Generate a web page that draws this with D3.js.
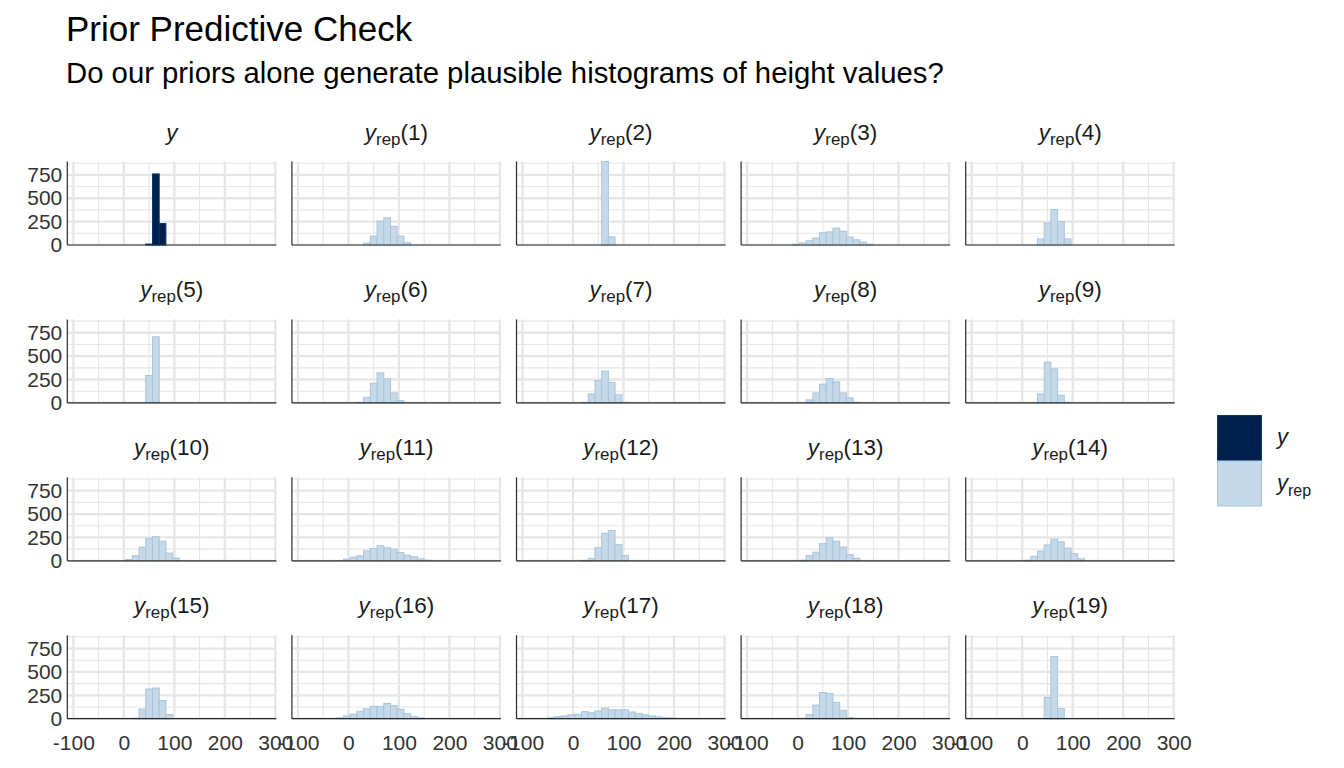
<!DOCTYPE html>
<html><head><meta charset="utf-8">
<script src="https://cdn.jsdelivr.net/npm/d3@7"></script>
<style>
body{margin:0;background:#fff}
svg{display:block}
text{font-family:"Liberation Sans",Arial,Helvetica,sans-serif}
</style>
</head><body>
<svg id="chart" width="1344" height="768"></svg>
<script>
// ---- data ----
const titleText = "Prior Predictive Check";
const subtitleText = "Do our priors alone generate plausible histograms of height values?";
const binStart = -89.6;   // left edge of histogram bin 0
const binWidth = 13.3;    // histogram bin width
const xDomain = [-112, 302];
const xMajorTicks = [-100, 0, 100, 200, 300];
const xMinorTicks = [-50, 50, 150, 250];
const yMajorTicks = [0, 250, 500, 750];
const yMinorTicks = [125, 375, 625, 875];
const panelNames = ["y", "1", "2", "3", "4", "5", "6", "7", "8", "9", "10", "11", "12", "13", "14", "15", "16", "17", "18", "19"];
// index of the first non-empty bin in each panel
const firstBin = [10, 9, 11, 6, 9, 10, 8, 8, 8, 8, 7, 6, 8, 7, 7, 8, 5, 3, 8, 10];
const counts_y      = [10, 760, 230];
const counts_yrep1  = [20, 95, 255, 290, 200, 95, 25];
const counts_yrep2  = [893, 88];
const counts_yrep3  = [8, 22, 45, 75, 130, 140, 180, 148, 85, 56, 32, 8];
const counts_yrep4  = [65, 235, 380, 250, 65];
const counts_yrep5  = [293, 707];
const counts_yrep6  = [7, 61, 211, 321, 257, 107, 25];
const counts_yrep7  = [7, 96, 240, 340, 218, 86, 7];
const counts_yrep8  = [32, 107, 200, 261, 225, 107, 54, 7];
const counts_yrep9  = [5, 96, 436, 364, 82, 5];
const counts_yrep10 = [14, 54, 146, 236, 257, 211, 82, 29];
const counts_yrep11 = [18, 39, 54, 107, 132, 161, 139, 125, 89, 61, 43, 21, 7];
const counts_yrep12 = [5, 26, 140, 294, 324, 173, 55];
const counts_yrep13 = [7, 55, 92, 184, 246, 210, 147, 66, 26];
const counts_yrep14 = [7, 48, 103, 169, 232, 202, 136, 77, 22];
const counts_yrep15 = [5, 104, 317, 328, 194, 45];
const counts_yrep16 = [8, 30, 49, 79, 106, 132, 132, 163, 140, 102, 53, 23, 8];
const counts_yrep17 = [11, 23, 30, 42, 49, 76, 64, 83, 113, 95, 95, 95, 72, 57, 42, 30, 19, 11, 8];
const counts_yrep18 = [45, 146, 280, 269, 175, 90, 11];
const counts_yrep19 = [228, 665, 110];
const allCounts = [counts_y, counts_yrep1, counts_yrep2, counts_yrep3, counts_yrep4, counts_yrep5,
  counts_yrep6, counts_yrep7, counts_yrep8, counts_yrep9, counts_yrep10, counts_yrep11, counts_yrep12,
  counts_yrep13, counts_yrep14, counts_yrep15, counts_yrep16, counts_yrep17, counts_yrep18, counts_yrep19];
const legendLabels = ["y", "rep"];

// ---- style ----
const colors = {
  yFill: "#011f4b", yLine: "#03396c",
  repFill: "#c6d9e8", repLine: "#a9c5dd",
  grid: "#e6e6e6", axis: "#2a2a2a", text: "#333333"
};

// ---- layout ----
const svg = d3.select("#chart");
const panelW = 209, panelH = 83.5;
const left0 = 67.3, top0 = 161.5, colStep = 224.6, rowStep = 157.9;
const nCols = 5;
const tickFont = 21;

const x = d3.scaleLinear().domain(xDomain).range([0, panelW]);
const yMax = d3.max(allCounts, c => d3.max(c));
const y = d3.scaleLinear().domain([0, yMax]).range([panelH, 0]);

// Titles
svg.append("text").attr("x", 66).attr("y", 41).attr("font-size", 35).attr("fill", "#000").text(titleText);
svg.append("text").attr("x", 66).attr("y", 83).attr("font-size", 29.3).attr("fill", "#000").text(subtitleText);

function stripLabel(sel, name, size) {
  sel.append("tspan").attr("font-style", "italic").text("y");
  if (name !== "y") {
    sel.append("tspan").attr("font-size", size * 0.75).attr("dy", 5).text("rep");
    sel.append("tspan").attr("dy", -5).text("(" + name + ")");
  }
}

allCounts.forEach((counts, p) => {
  const col = p % nCols, row = Math.floor(p / nCols);
  const nRows = Math.ceil(allCounts.length / nCols);
  const g = svg.append("g").attr("transform", `translate(${left0 + col * colStep},${top0 + row * rowStep})`);

  // minor grid
  g.selectAll(".vmin").data(xMinorTicks).join("line")
    .attr("x1", d => x(d)).attr("x2", d => x(d)).attr("y1", 0).attr("y2", panelH)
    .attr("stroke", colors.grid).attr("stroke-width", 1.1);
  g.selectAll(".hmin").data(yMinorTicks.filter(v => v <= yMax)).join("line")
    .attr("x1", 0).attr("x2", panelW).attr("y1", d => y(d)).attr("y2", d => y(d))
    .attr("stroke", colors.grid).attr("stroke-width", 1.1);
  // major grid
  g.selectAll(".vmaj").data(xMajorTicks).join("line")
    .attr("x1", d => x(d)).attr("x2", d => x(d)).attr("y1", 0).attr("y2", panelH)
    .attr("stroke", colors.grid).attr("stroke-width", 2.3);
  g.selectAll(".hmaj").data(yMajorTicks).join("line")
    .attr("x1", 0).attr("x2", panelW).attr("y1", d => y(d)).attr("y2", d => y(d))
    .attr("stroke", colors.grid).attr("stroke-width", 2.3);

  // bars
  const isY = p === 0;
  const bars = counts.map((n, i) => ({
    x0: binStart + (firstBin[p] + i) * binWidth,
    x1: binStart + (firstBin[p] + i + 1) * binWidth,
    n
  }));
  g.selectAll(".bar").data(bars).join("rect")
    .attr("x", d => x(d.x0)).attr("width", d => x(d.x1) - x(d.x0))
    .attr("y", d => y(d.n)).attr("height", d => y(0) - y(d.n))
    .attr("fill", isY ? colors.yFill : colors.repFill)
    .attr("stroke", isY ? colors.yLine : colors.repLine)
    .attr("stroke-width", 1);

  // axis lines
  g.append("line").attr("x1", 0).attr("x2", 0).attr("y1", 0).attr("y2", panelH)
    .attr("stroke", colors.axis).attr("stroke-width", 1.2);
  g.append("line").attr("x1", 0).attr("x2", panelW).attr("y1", panelH).attr("y2", panelH)
    .attr("stroke", colors.axis).attr("stroke-width", 1.2);

  // y axis labels (first column)
  if (col === 0) {
    const ax = d3.axisLeft(y).tickValues(yMajorTicks).tickSize(0).tickPadding(5).tickFormat(d => String(d));
    const ag = g.append("g").call(ax);
    ag.select(".domain").remove();
    ag.selectAll("text").attr("font-size", tickFont).attr("fill", colors.text)
      .attr("font-family", '"Liberation Sans",Arial,sans-serif');
  }
  // x axis labels (bottom row)
  if (row === nRows - 1) {
    const ax = d3.axisBottom(x).tickValues(xMajorTicks).tickSize(0).tickPadding(16).tickFormat(d => String(d));
    const ag = g.append("g").attr("transform", `translate(0,${panelH})`).call(ax);
    ag.select(".domain").remove();
    ag.selectAll("text").attr("font-size", tickFont).attr("fill", colors.text)
      .attr("font-family", '"Liberation Sans",Arial,sans-serif');
  }

  // strip label
  const t = g.append("text").attr("x", panelW / 2).attr("y", -22)
    .attr("text-anchor", "middle").attr("font-size", 22.5).attr("fill", "#1a1a1a");
  stripLabel(t, panelNames[p], 22.5);
});

// legend
const lg = svg.append("g").attr("transform", "translate(1217,415)");
const legendItems = [
  { fill: colors.yFill, line: colors.yLine, sub: false },
  { fill: colors.repFill, line: colors.repLine, sub: true }
];
legendItems.forEach((d, i) => {
  lg.append("rect").attr("x", 0.5).attr("y", i * 45.5 + 0.5).attr("width", 44).attr("height", 45)
    .attr("fill", d.fill).attr("stroke", d.line).attr("stroke-width", 1);
  const t = lg.append("text").attr("x", 60).attr("y", i * 45.5 + 29).attr("font-size", 22).attr("fill", "#1a1a1a");
  t.append("tspan").attr("font-style", "italic").text(legendLabels[0]);
  if (d.sub) t.append("tspan").attr("font-size", 16).attr("dy", 6).text(legendLabels[1]);
});
</script>
</body></html>
